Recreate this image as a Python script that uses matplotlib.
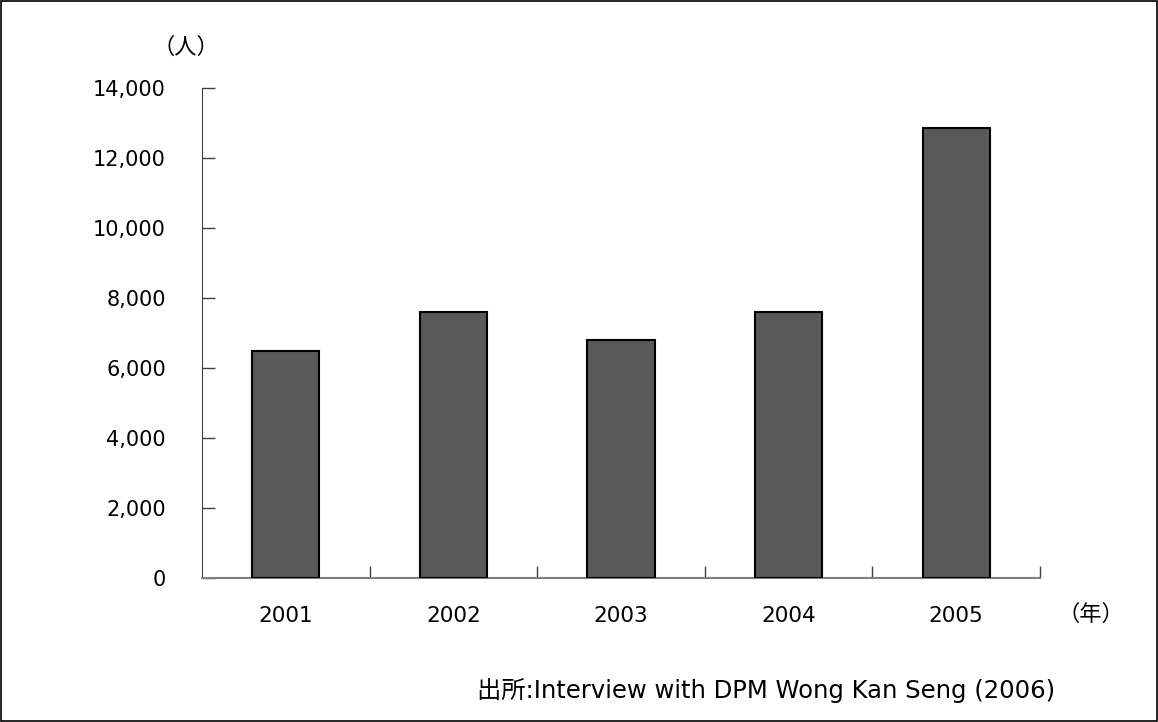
import matplotlib.pyplot as plt
from matplotlib.patches import Rectangle

plt.rcParams['font.family'] = ['DejaVu Sans', 'Noto Sans CJK JP']

years = ['2001', '2002', '2003', '2004', '2005']
values = [6500, 7600, 6800, 7600, 12850]
y_ticks = [0, 2000, 4000, 6000, 8000, 10000, 12000, 14000]

fig = plt.figure(figsize=(11.58, 7.22), dpi=100)
ax = fig.add_axes([202 / 1158, 1 - 578 / 722, (1040 - 202) / 1158, (578 - 88) / 722])

x = range(len(years))
ax.bar(x, values, width=0.4, color='#595959', edgecolor='black', linewidth=1.5, zorder=3)

ax.set_xlim(-0.5, len(years) - 0.5)
ax.set_ylim(0, 14000)
ax.set_yticks(y_ticks)
ax.set_yticklabels(['{:,}'.format(v) for v in y_ticks], fontsize=15)

# category labels centered, ticks on boundaries
ax.set_xticks(list(x))
ax.set_xticklabels(years, fontsize=15.5)
ax.tick_params(axis='x', which='major', length=0, pad=20)
ax.set_xticks([i + 0.5 for i in x], minor=True)
ax.tick_params(axis='x', which='minor', direction='in', length=9, width=1, color='#404040')
ax.tick_params(axis='y', direction='in', length=9, width=1, color='#404040', pad=26)

for s in ['top', 'right']:
    ax.spines[s].set_visible(False)
ax.spines['left'].set_color('#404040')
ax.spines['bottom'].set_color('#808080')
ax.spines['bottom'].set_linewidth(1.5)

cjk = ['Noto Sans CJK JP', 'DejaVu Sans']
fig.text(186 / 1158, 1 - 47 / 722, '（人）', fontsize=16, ha='center', va='center', family=cjk)
fig.text(1091 / 1158, 1 - 614 / 722, '（年）', fontsize=16, ha='center', va='center', family=cjk)
fig.text(477 / 1158, 1 - 690 / 722, '出所:Interview with DPM Wong Kan Seng (2006)',
         fontsize=17.5, ha='left', va='center')

fig.patches.append(Rectangle((0.0005, 0.0007), 0.999, 0.9986, transform=fig.transFigure,
                             fill=False, edgecolor='black', linewidth=1.2))

fig.savefig('out.png', dpi=100)
